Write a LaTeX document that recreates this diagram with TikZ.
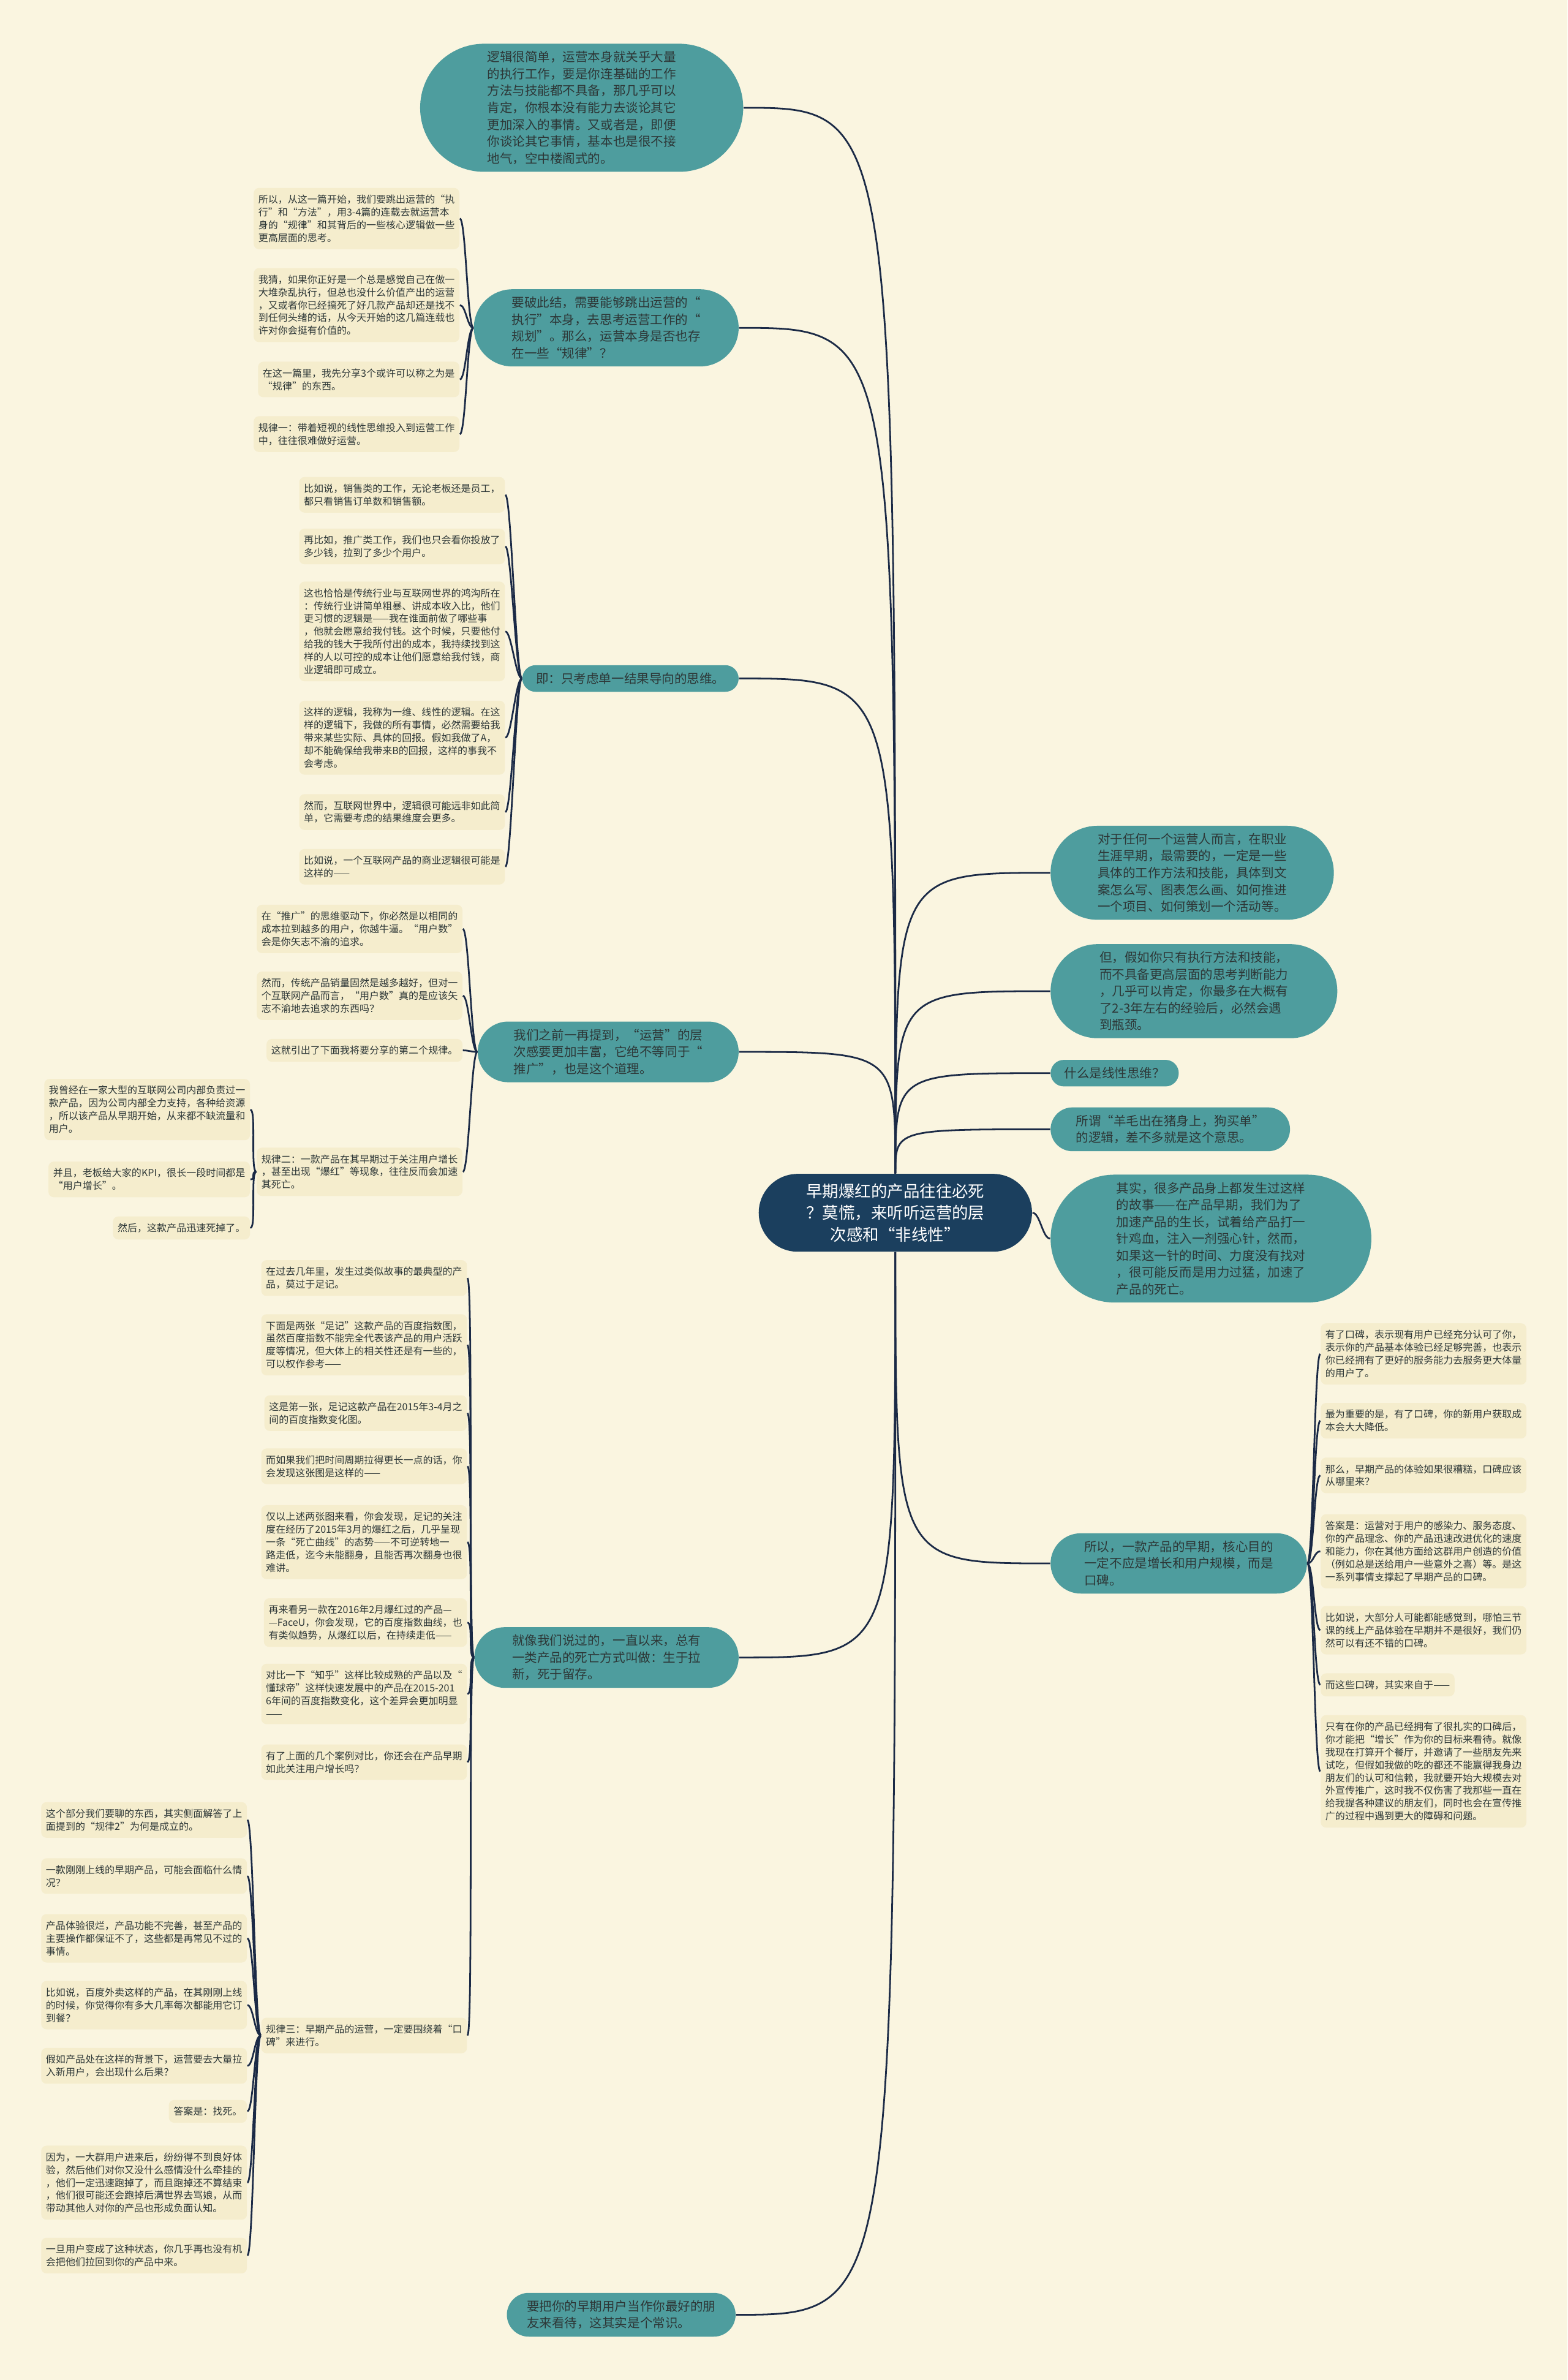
\documentclass[tikz,border=0pt]{standalone}
\usepackage{fontspec}
\setmainfont{Noto Sans CJK SC}
\usetikzlibrary{shapes.misc}

\definecolor{paper}{RGB}{250,245,224}
\definecolor{leafbg}{RGB}{245,237,205}
\definecolor{bubblecol}{RGB}{78,157,158}
\definecolor{hubblue}{RGB}{27,63,94}
\definecolor{wire}{RGB}{27,42,70}
\definecolor{ink}{RGB}{45,55,55}

\tikzset{
  leaf/.style={fill=leafbg, rounded corners=2.5pt, align=left, inner xsep=2.2pt, inner ysep=3.2pt,
    text=ink, font=\fontsize{4.6pt}{6pt}\selectfont},
  bubble/.style={rounded rectangle, fill=bubblecol, align=left, inner xsep=#1, inner ysep=3.5pt,
    text=ink, font=\fontsize{5.9pt}{7.9pt}\selectfont},
  bubble/.default=2pt,
  hub/.style={rounded rectangle, fill=hubblue, align=center, inner xsep=16pt, inner ysep=4.5pt,
    text=white, font=\fontsize{7.6pt}{10.2pt}\selectfont},
  link/.style={draw=wire, line width=0.8pt},
}

\newcommand\hublink[2]{\draw[link] (#1) .. controls (#1 |- #2) .. (#2);}
\newcommand\twigL[2]{\draw[link] (#1) .. controls +(-4,0) and +(4,0) .. (#2);}
\newcommand\twigR[2]{\draw[link] (#1) .. controls +(4,0) and +(-4,0) .. (#2);}

\begin{document}
\begin{tikzpicture}[x=0.025cm, y=-0.025cm]
  \fill[paper] (0,0) rectangle (1033,1568);
  \useasboundingbox (0,0) rectangle (1033,1568);

  % centre
  \node[hub] (c) at (590,799) {早期爆红的产品往往必死\\？莫慌，来听听运营的层\\次感和“非线性”};

  % left branches
  \node[bubble=15.5pt, anchor=east] (t1) at (490,71) {逻辑很简单，运营本身就关乎大量\\的执行工作，要是你连基础的工作\\方法与技能都不具备，那几乎可以\\肯定，你根本没有能力去谈论其它\\更加深入的事情。又或者是，即便\\你谈论其它事情，基本也是很不接\\地气，空中楼阁式的。};
  \node[bubble=10.4pt, anchor=east] (t2) at (487,216) {要破此结，需要能够跳出运营的“\\执行”本身，去思考运营工作的“\\规划”。那么，运营本身是否也存\\在一些“规律”？};
  \node[bubble=5.8pt, anchor=east] (t3) at (487,447) {即：只考虑单一结果导向的思维。};
  \node[bubble=12pt, anchor=east] (t4) at (487,693) {我们之前一再提到，“运营”的层\\次感要更加丰富，它绝不等同于“\\推广”，也是这个道理。};
  \node[bubble=12.8pt, anchor=east] (t5) at (487,1092) {就像我们说过的，一直以来，总有\\一类产品的死亡方式叫做：生于拉\\新，死于留存。};
  \node[bubble=6.8pt, anchor=east] (t6) at (485,1525) {要把你的早期用户当作你最好的朋\\友来看待，这其实是个常识。};

  % right branches
  \node[bubble=12pt, anchor=west] (r1) at (692,575) {对于任何一个运营人而言，在职业\\生涯早期，最需要的，一定是一些\\具体的工作方法和技能，具体到文\\案怎么写、图表怎么画、如何推进\\一个项目、如何策划一个活动等。};
  \node[bubble=12.8pt, anchor=west] (r2) at (692,653) {但，假如你只有执行方法和技能，\\而不具备更高层面的思考判断能力\\，几乎可以肯定，你最多在大概有\\了2-3年左右的经验后，必然会遇\\到瓶颈。};
  \node[bubble=5.8pt, anchor=west] (r3) at (692,707) {什么是线性思维？};
  \node[bubble=9.3pt, anchor=west] (r4) at (692,744) {所谓“羊毛出在猪身上，狗买单”\\的逻辑，差不多就是这个意思。};
  \node[bubble=15pt, anchor=west] (r5) at (692,816) {其实，很多产品身上都发生过这样\\的故事——在产品早期，我们为了\\加速产品的生长，试着给产品打一\\针鸡血，注入一剂强心针，然而，\\如果这一针的时间、力度没有找对\\，很可能反而是用力过猛，加速了\\产品的死亡。};
  \node[bubble=11pt, anchor=west] (r6) at (692,1030) {所以，一款产品的早期，核心目的\\一定不应是增长和用户规模，而是\\口碑。};

  % leaves of t2
  \node[leaf, anchor=east] (l2a) at (303,144) {所以，从这一篇开始，我们要跳出运营的“执\\行”和“方法”，用3-4篇的连载去就运营本\\身的“规律”和其背后的一些核心逻辑做一些\\更高层面的思考。};
  \node[leaf, anchor=east] (l2b) at (303,201) {我猜，如果你正好是一个总是感觉自己在做一\\大堆杂乱执行，但总也没什么价值产出的运营\\，又或者你已经搞死了好几款产品却还是找不\\到任何头绪的话，从今天开始的这几篇连载也\\许对你会挺有价值的。};
  \node[leaf, anchor=east] (l2c) at (303,250) {在这一篇里，我先分享3个或许可以称之为是\\“规律”的东西。};
  \node[leaf, anchor=east] (l2d) at (303,286) {规律一：带着短视的线性思维投入到运营工作\\中，往往很难做好运营。};

  % leaves of t3
  \node[leaf, anchor=east] (l3a) at (333,326) {比如说，销售类的工作，无论老板还是员工，\\都只看销售订单数和销售额。};
  \node[leaf, anchor=east] (l3b) at (333,360) {再比如，推广类工作，我们也只会看你投放了\\多少钱，拉到了多少个用户。};
  \node[leaf, anchor=east] (l3c) at (333,416) {这也恰恰是传统行业与互联网世界的鸿沟所在\\：传统行业讲简单粗暴、讲成本收入比，他们\\更习惯的逻辑是——我在谁面前做了哪些事\\，他就会愿意给我付钱。这个时候，只要他付\\给我的钱大于我所付出的成本，我持续找到这\\样的人以可控的成本让他们愿意给我付钱，商\\业逻辑即可成立。};
  \node[leaf, anchor=east] (l3d) at (333,486) {这样的逻辑，我称为一维、线性的逻辑。在这\\样的逻辑下，我做的所有事情，必然需要给我\\带来某些实际、具体的回报。假如我做了A，\\却不能确保给我带来B的回报，这样的事我不\\会考虑。};
  \node[leaf, anchor=east] (l3e) at (333,535) {然而，互联网世界中，逻辑很可能远非如此简\\单，它需要考虑的结果维度会更多。};
  \node[leaf, anchor=east] (l3f) at (333,571) {比如说，一个互联网产品的商业逻辑很可能是\\这样的——};

  % leaves of t4
  \node[leaf, anchor=east] (l4a) at (305,612) {在“推广”的思维驱动下，你必然是以相同的\\成本拉到越多的用户，你越牛逼。“用户数”\\会是你矢志不渝的追求。};
  \node[leaf, anchor=east] (l4b) at (305,656) {然而，传统产品销量固然是越多越好，但对一\\个互联网产品而言，“用户数”真的是应该矢\\志不渝地去追求的东西吗？};
  \node[leaf, anchor=east] (l4c) at (305,692) {这就引出了下面我将要分享的第二个规律。};
  \node[leaf, anchor=east] (l4d) at (305,772) {规律二：一款产品在其早期过于关注用户增长\\，甚至出现“爆红”等现象，往往反而会加速\\其死亡。};
  \node[leaf, anchor=east] (l4d1) at (165,731) {我曾经在一家大型的互联网公司内部负责过一\\款产品，因为公司内部全力支持，各种给资源\\，所以该产品从早期开始，从来都不缺流量和\\用户。};
  \node[leaf, anchor=east] (l4d2) at (165,777) {并且，老板给大家的KPI，很长一段时间都是\\“用户增长”。};
  \node[leaf, anchor=east] (l4d3) at (165,809) {然后，这款产品迅速死掉了。};

  % leaves of t5
  \node[leaf, anchor=east] (l5a) at (308,842) {在过去几年里，发生过类似故事的最典型的产\\品，莫过于足记。};
  \node[leaf, anchor=east] (l5b) at (308,886) {下面是两张“足记”这款产品的百度指数图，\\虽然百度指数不能完全代表该产品的用户活跃\\度等情况，但大体上的相关性还是有一些的，\\可以权作参考——};
  \node[leaf, anchor=east] (l5c) at (308,931) {这是第一张，足记这款产品在2015年3-4月之\\间的百度指数变化图。};
  \node[leaf, anchor=east] (l5d) at (308,966) {而如果我们把时间周期拉得更长一点的话，你\\会发现这张图是这样的——};
  \node[leaf, anchor=east] (l5e) at (308,1016) {仅以上述两张图来看，你会发现，足记的关注\\度在经历了2015年3月的爆红之后，几乎呈现\\一条“死亡曲线”的态势——不可逆转地一\\路走低，迄今未能翻身，且能否再次翻身也很\\难讲。};
  \node[leaf, anchor=east] (l5f) at (308,1069) {再来看另一款在2016年2月爆红过的产品—\\—FaceU，你会发现，它的百度指数曲线，也\\有类似趋势，从爆红以后，在持续走低——};
  \node[leaf, anchor=east] (l5g) at (308,1116) {对比一下“知乎”这样比较成熟的产品以及“\\懂球帝”这样快速发展中的产品在2015-201\\6年间的百度指数变化，这个差异会更加明显\\——};
  \node[leaf, anchor=east] (l5h) at (308,1161) {有了上面的几个案例对比，你还会在产品早期\\如此关注用户增长吗？};
  \node[leaf, anchor=east] (l5i) at (308,1341) {规律三：早期产品的运营，一定要围绕着“口\\碑”来进行。};
  \node[leaf, anchor=east] (l5i1) at (163,1199) {这个部分我们要聊的东西，其实侧面解答了上\\面提到的“规律2”为何是成立的。};
  \node[leaf, anchor=east] (l5i2) at (163,1236) {一款刚刚上线的早期产品，可能会面临什么情\\况？};
  \node[leaf, anchor=east] (l5i3) at (163,1277) {产品体验很烂，产品功能不完善，甚至产品的\\主要操作都保证不了，这些都是再常见不过的\\事情。};
  \node[leaf, anchor=east] (l5i4) at (163,1321) {比如说，百度外卖这样的产品，在其刚刚上线\\的时候，你觉得你有多大几率每次都能用它订\\到餐？};
  \node[leaf, anchor=east] (l5i5) at (163,1361) {假如产品处在这样的背景下，运营要去大量拉\\入新用户，会出现什么后果？};
  \node[leaf, anchor=east] (l5i6) at (163,1391) {答案是：找死。};
  \node[leaf, anchor=east] (l5i7) at (163,1438) {因为，一大群用户进来后，纷纷得不到良好体\\验，然后他们对你又没什么感情没什么牵挂的\\，他们一定迅速跑掉了，而且跑掉还不算结束\\，他们很可能还会跑掉后满世界去骂娘，从而\\带动其他人对你的产品也形成负面认知。};
  \node[leaf, anchor=east] (l5i8) at (163,1486) {一旦用户变成了这种状态，你几乎再也没有机\\会把他们拉回到你的产品中来。};

  % leaves of r6
  \node[leaf, anchor=west] (m1) at (870,892) {有了口碑，表示现有用户已经充分认可了你，\\表示你的产品基本体验已经足够完善，也表示\\你已经拥有了更好的服务能力去服务更大体量\\的用户了。};
  \node[leaf, anchor=west] (m2) at (870,936) {最为重要的是，有了口碑，你的新用户获取成\\本会大大降低。};
  \node[leaf, anchor=west] (m3) at (870,972) {那么，早期产品的体验如果很糟糕，口碑应该\\从哪里来？};
  \node[leaf, anchor=west] (m4) at (870,1022) {答案是：运营对于用户的感染力、服务态度、\\你的产品理念、你的产品迅速改进优化的速度\\和能力，你在其他方面给这群用户创造的价值\\（例如总是送给用户一些意外之喜）等。是这\\一系列事情支撑起了早期产品的口碑。};
  \node[leaf, anchor=west] (m5) at (870,1074) {比如说，大部分人可能都能感觉到，哪怕三节\\课的线上产品体验在早期并不是很好，我们仍\\然可以有还不错的口碑。};
  \node[leaf, anchor=west] (m6) at (870,1110) {而这些口碑，其实来自于——};
  \node[leaf, anchor=west] (m7) at (870,1167) {只有在你的产品已经拥有了很扎实的口碑后，\\你才能把“增长”作为你的目标来看待。就像\\我现在打算开个餐厅，并邀请了一些朋友先来\\试吃，但假如我做的吃的都还不能赢得我身边\\朋友们的认可和信赖，我就要开始大规模去对\\外宣传推广，这时我不仅伤害了我那些一直在\\给我提各种建议的朋友们，同时也会在宣传推\\广的过程中遇到更大的障碍和问题。};

  % links from centre
  \hublink{c.north}{t1.east}
  \hublink{c.north}{t2.east}
  \hublink{c.north}{t3.east}
  \hublink{c.north}{t4.east}
  \hublink{c.south}{t5.east}
  \hublink{c.south}{t6.east}
  \hublink{c.north}{r1.west}
  \hublink{c.north}{r2.west}
  \hublink{c.north}{r3.west}
  \hublink{c.north}{r4.west}
  \draw[link] (c.east) .. controls +(5,0) and +(-5,0) .. (r5.west);
  \hublink{c.south}{r6.west}

  % leaf links
  \foreach \k in {l2a,l2b,l2c,l2d} {\twigL{t2.west}{\k.east}}
  \foreach \k in {l3a,l3b,l3c,l3d,l3e,l3f} {\twigL{t3.west}{\k.east}}
  \foreach \k in {l4a,l4b,l4c,l4d} {\twigL{t4.west}{\k.east}}
  \foreach \k in {l4d1,l4d2,l4d3} {\twigL{l4d.west}{\k.east}}
  \foreach \k in {l5a,l5b,l5c,l5d,l5e,l5f,l5g,l5h,l5i} {\twigL{t5.west}{\k.east}}
  \foreach \k in {l5i1,l5i2,l5i3,l5i4,l5i5,l5i6,l5i7,l5i8} {\twigL{l5i.west}{\k.east}}
  \foreach \k in {m1,m2,m3,m4,m5,m6,m7} {\twigR{r6.east}{\k.west}}
\end{tikzpicture}
\end{document}
